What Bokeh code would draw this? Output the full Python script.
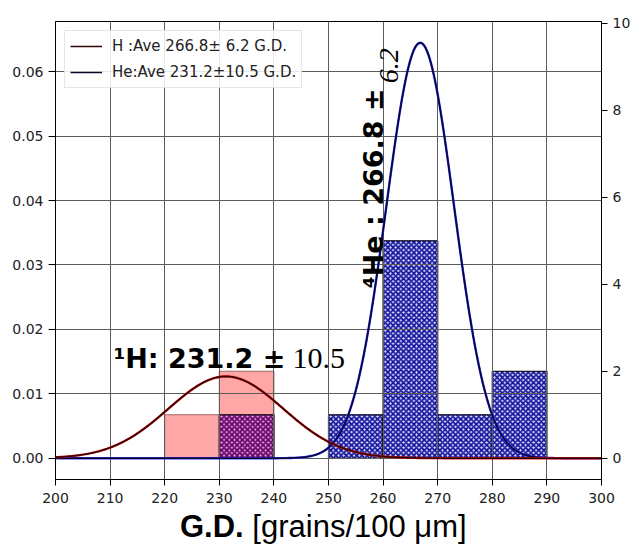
import numpy as np
from bokeh.plotting import figure
from bokeh.layouts import column
from bokeh.models import (Range1d, LinearAxis, FixedTicker, PrintfTickFormatter,
                          Legend, LegendItem, Label, ColumnDataSource, Div)
from bokeh.embed import file_html
from bokeh.resources import INLINE

# ---------------- data ----------------
bin_left = [200, 210, 220, 230, 240, 250, 260, 270, 280, 290]
bin_width = 10
h_counts = [0, 0, 1, 2, 0, 0, 0, 0, 0, 0]     # 1H grains per bin (right axis)
he_counts = [0, 0, 0, 1, 0, 1, 5, 1, 2, 0]    # 4He grains per bin (right axis)

h_mean, h_sd, h_peak = 231.2, 10.5, 0.0127     # fitted normal curve (left axis)
he_mean, he_sd, he_peak = 266.8, 6.2, 0.0645

x_ticks = [200, 210, 220, 230, 240, 250, 260, 270, 280, 290, 300]
left_ticks = [0.00, 0.01, 0.02, 0.03, 0.04, 0.05, 0.06]
right_ticks = [0, 2, 4, 6, 8, 10]

legend_labels = ["H :Ave 266.8\u00b1 6.2 G.D.", "He:Ave 231.2\u00b110.5 G.D."]

# ---------------- figure ----------------
LEFT_RANGE = (-0.0033, 0.0678)
K = 148.1
p = figure(width=633, height=510, output_backend="svg", toolbar_location=None,
           x_range=Range1d(200, 300), y_range=Range1d(*LEFT_RANGE),
           min_border_left=55, min_border_right=30, min_border_top=21,
           min_border_bottom=31)
p.extra_y_ranges = {"right": Range1d(LEFT_RANGE[0] * K, LEFT_RANGE[1] * K)}
p.background_fill_color = "white"
p.border_fill_color = "white"
p.outline_line_color = "black"
p.outline_line_width = 1

TICK_FONT = "DejaVu Sans"
TICK_SIZE = "14px"

def style_axis(ax, tick_out=6, standoff=5):
    ax.axis_line_color = "black"
    ax.major_tick_line_color = "black"
    ax.major_tick_out = tick_out
    ax.major_tick_in = 0
    ax.minor_tick_line_color = None
    ax.major_label_text_font = TICK_FONT
    ax.major_label_text_font_size = TICK_SIZE
    ax.major_label_text_color = "#222222"
    ax.major_label_standoff = standoff

xa = p.xaxis[0]
xa.ticker = FixedTicker(ticks=x_ticks)
style_axis(xa, 6, 7)
ya = p.yaxis[0]
ya.ticker = FixedTicker(ticks=left_ticks)
ya.formatter = PrintfTickFormatter(format="%.2f")
style_axis(ya, 7, 5)
ra = LinearAxis(y_range_name="right", ticker=FixedTicker(ticks=right_ticks))
style_axis(ra, 6, 5)
p.add_layout(ra, "right")

for g in (p.xgrid[0], p.ygrid[0]):
    g.grid_line_color = "#5c5c5c"
    g.grid_line_width = 1
    g.level = "underlay"
p.xgrid[0].ticker = FixedTicker(ticks=x_ticks)
p.ygrid[0].ticker = FixedTicker(ticks=left_ticks)

# ---------------- histograms ----------------
h_src = ColumnDataSource(dict(
    left=[l for l, c in zip(bin_left, h_counts) if c > 0],
    right=[l + bin_width for l, c in zip(bin_left, h_counts) if c > 0],
    top=[c for c in h_counts if c > 0]))
r_hbar = p.quad(left="left", right="right", top="top", bottom=0, source=h_src,
                y_range_name="right", fill_color="#ffa6a6", line_color="#a06868",
                line_width=1)
r_hbar.level = "image"

he_sel = [i for i, c in enumerate(he_counts) if c > 0]
overlap = [h_counts[i] > 0 for i in he_sel]
he_src = ColumnDataSource(dict(
    left=[bin_left[i] for i in he_sel],
    right=[bin_left[i] + bin_width for i in he_sel],
    top=[he_counts[i] for i in he_sel],
    fill=["#f080ee" if o else "#d8d8ff" for o in overlap],
    hatch=["#5c0a5a" if o else "#14149a" for o in overlap]))
r_hebar = p.quad(left="left", right="right", top="top", bottom=0, source=he_src,
                 y_range_name="right", fill_color="fill", line_color="black",
                 line_width=1.2, hatch_pattern="x", hatch_color="hatch",
                 hatch_scale=5.2, hatch_weight=1.7)
r_hebar.level = "image"

# ---------------- fitted curves ----------------
xs = np.linspace(200, 300, 401)
h_curve = h_peak * np.exp(-0.5 * ((xs - h_mean) / h_sd) ** 2)
he_curve = he_peak * np.exp(-0.5 * ((xs - he_mean) / he_sd) ** 2)

p.line(xs, he_curve, line_color="#2a2aff", line_width=2.4)
r_he_line = p.line(xs, he_curve, line_color="#080828", line_width=1.5)
p.line(xs, h_curve, line_color="#d01010", line_width=2.4)
r_h_line = p.line(xs, h_curve, line_color="#300404", line_width=1.5)

legend = Legend(items=[LegendItem(label=legend_labels[0], renderers=[r_h_line]),
                       LegendItem(label=legend_labels[1], renderers=[r_he_line])],
                location="top_left", margin=9, padding=5, spacing=6,
                glyph_width=32, glyph_height=20, label_standoff=10,
                label_text_font=TICK_FONT, label_text_font_size="15px",
                label_text_color="#222222", border_line_color="#cccccc",
                border_line_width=1, background_fill_alpha=0.85)
p.add_layout(legend)

# ---------------- annotations ----------------
p.add_layout(Label(x=210.6, y=0.0155, text="\u00b9H: 231.2 \u00b1",
                   text_font="DejaVu Sans", text_font_style="bold",
                   text_font_size="27px", text_baseline="alphabetic",
                   text_color="black"))
p.add_layout(Label(x=243.4, y=0.0155, text="10.5", text_font="Liberation Serif",
                   text_font_size="30px", text_baseline="alphabetic",
                   text_color="black"))
p.add_layout(Label(x=258.2, y=0.0264, text="\u2074He : 266.8 \u00b1",
                   angle=np.pi / 2, text_font="DejaVu Sans", text_font_style="bold",
                   text_font_size="27px", text_baseline="alphabetic",
                   text_color="black"))
p.add_layout(Label(x=261.0, y=0.0582, text="6.2", angle=np.pi / 2,
                   text_font="Liberation Serif", text_font_style="italic",
                   text_font_size="28px", text_baseline="alphabetic",
                   text_color="black"))

# x-axis title (mixed weight), as real text below the plot
xtitle = Div(text='<span style="font-weight:bold">G.D.</span> [grains/100 \u03bcm]',
             width=633, height=37, margin=0,
             styles={"font-family": "'Liberation Sans', Arial, sans-serif",
                     "font-size": "31px", "line-height": "31px", "color": "black",
                     "white-space": "nowrap", "padding-left": "180px",
                     "padding-top": "1px", "box-sizing": "border-box",
                     "background-color": "white"})

layout = column(p, xtitle, spacing=0)
open("out.html", "w").write(file_html(layout, INLINE))
